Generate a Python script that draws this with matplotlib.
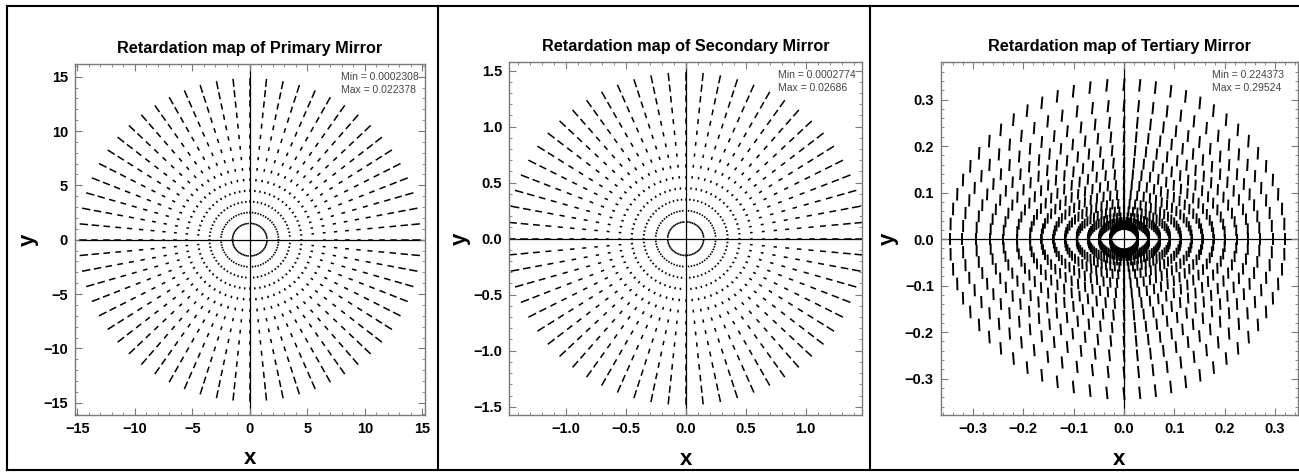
import numpy as np
import matplotlib
matplotlib.use("Agg")
import matplotlib.pyplot as plt
from matplotlib.collections import LineCollection
from matplotlib.lines import Line2D
from matplotlib.ticker import MultipleLocator

plt.rcParams['font.family'] = ['Liberation Sans', 'DejaVu Sans']

# ---------------- data ----------------
n_spokes = 64  # sampling directions on each ring

titles = ["Retardation map of Primary Mirror",
          "Retardation map of Secondary Mirror",
          "Retardation map of Tertiary Mirror"]
min_texts = ["Min = 0.0002308", "Min = 0.0002774", "Min = 0.224373"]
max_texts = ["Max = 0.022378", "Max = 0.02686", "Max = 0.29524"]

primary_radii = [1.5, 2.5, 3.5, 4.5, 5.5, 6.5, 7.5, 8.5, 9.5, 10.5, 11.5, 12.5, 13.5, 14.5]
primary_ret = [0.0002308, 0.000645, 0.00126, 0.00209, 0.00312, 0.00437, 0.00582,
               0.00749, 0.00937, 0.01146, 0.01377, 0.01630, 0.01904, 0.022378]

secondary_radii = [0.15, 0.25, 0.35, 0.45, 0.55, 0.65, 0.75, 0.85, 0.95, 1.05, 1.15, 1.25, 1.35, 1.45]
secondary_ret = [0.0002774, 0.000775, 0.00151, 0.00251, 0.00375, 0.00525, 0.00699,
                 0.00899, 0.01125, 0.01376, 0.01653, 0.01957, 0.02286, 0.02686]

tertiary_rx_pos = [0.028, 0.050, 0.0716, 0.0915, 0.113, 0.1346, 0.156, 0.178, 0.2008, 0.224, 0.247, 0.270, 0.295, 0.320]
tertiary_rx_neg = [0.027, 0.049, 0.071, 0.094, 0.117, 0.140, 0.164, 0.187, 0.213, 0.240, 0.266, 0.294, 0.321, 0.346]
tertiary_ry = [0.030, 0.037, 0.047, 0.060, 0.076, 0.095, 0.116, 0.139, 0.164, 0.191, 0.220, 0.251, 0.287, 0.332]
tertiary_ret = [0.224373, 0.2255, 0.228, 0.231, 0.235, 0.240, 0.245, 0.251, 0.257, 0.263,
                0.270, 0.278, 0.286, 0.29524]
tertiary_tilt_deg = [0.8, 1.2, 1.6, 2.0, 2.4, 2.8, 3.2, 3.5, 3.8, 4.1, 4.4, 4.7, 5.0, 5.3]

# ---------------- layout ----------------
W, H = 1299, 472
fig = plt.figure(figsize=(W / 100, H / 100), dpi=100)

def rect(l, r, t, b):
    return [l / W, (H - b) / H, (r - l) / W, (b - t) / H]

axes_rects = [rect(75, 425, 64.3, 415), rect(509.3, 862.3, 62, 415), rect(940.7, 1297.7, 62.3, 415)]
xlims = [(-15.2, 15.24), (-1.47, 1.472), (-0.364, 0.345)]
ylims = [(-16.13, 16.14), (-1.574, 1.577), (-0.378, 0.380)]
majors = [5, 0.5, 0.1]
minors = [1, 0.1, 0.02]
fmts = ["{:.0f}", "{:.1f}", "{:.1f}"]
ylabel_x = [-0.134, -0.14, -0.148]

theta = np.arange(n_spokes) * 2 * np.pi / n_spokes


def radial_segments(radii, ret, max_len):
    scale = max_len / max(ret)
    segs = []
    for r, v in zip(radii, ret):
        h = v * scale / 2
        for t in theta:
            c, s = np.cos(t), np.sin(t)
            segs.append([((r - h) * c, (r - h) * s), ((r + h) * c, (r + h) * s)])
    return segs


def tertiary_segments(max_len):
    scale = max_len / max(tertiary_ret)
    segs = []
    for rp, rn, ry, v, tilt in zip(tertiary_rx_pos, tertiary_rx_neg, tertiary_ry,
                                   tertiary_ret, tertiary_tilt_deg):
        h = v * scale / 2
        for t in theta:
            c, s = np.cos(t), np.sin(t)
            cx = (rp if c >= 0 else rn) * c
            cy = ry * s
            phi = np.deg2rad(tilt * s)
            dx, dy = np.sin(phi) * h, np.cos(phi) * h
            segs.append([(cx - dx, cy - dy), (cx + dx, cy + dy)])
    return segs


seg_sets = [radial_segments(primary_radii, primary_ret, 0.60),
            radial_segments(secondary_radii, secondary_ret, 0.060),
            tertiary_segments(0.027)]
seg_lw = [1.1, 1.1, 1.4]
seg_caps = ['projecting', 'projecting', 'butt']

frame_col = '#7a7a7a'
for i in range(3):
    ax = fig.add_axes(axes_rects[i])
    ax.axhline(0, color='black', lw=0.9, zorder=1)
    ax.axvline(0, color='black', lw=0.9, zorder=1)
    lc = LineCollection(seg_sets[i], colors='black', linewidths=seg_lw[i],
                        capstyle=seg_caps[i], zorder=2)
    ax.add_collection(lc)
    ax.set_xlim(*xlims[i])
    ax.set_ylim(*ylims[i])
    ax.xaxis.set_major_locator(MultipleLocator(majors[i]))
    ax.yaxis.set_major_locator(MultipleLocator(majors[i]))
    ax.xaxis.set_minor_locator(MultipleLocator(minors[i]))
    ax.yaxis.set_minor_locator(MultipleLocator(minors[i]))
    f = fmts[i]
    ax.xaxis.set_major_formatter(plt.FuncFormatter(lambda v, p, f=f: f.format(v + 0.0).replace('-', '\u2212')))
    ax.yaxis.set_major_formatter(plt.FuncFormatter(lambda v, p, f=f: f.format(v + 0.0).replace('-', '\u2212')))
    ax.tick_params(which='both', direction='in', top=True, right=True, color=frame_col,
                   labelsize=10.5, labelcolor='black', pad=5)
    ax.tick_params(which='major', length=5, width=0.8)
    ax.tick_params(which='minor', length=2.5, width=0.6)
    for lab in ax.get_xticklabels() + ax.get_yticklabels():
        lab.set_fontweight('bold')
    for sp in ax.spines.values():
        sp.set_color(frame_col)
        sp.set_linewidth(1.0)
    ax.set_xlabel('x', fontsize=16, fontweight='bold')
    ax.set_ylabel('y', fontsize=16, fontweight='bold')
    ax.xaxis.set_label_coords(0.5, -0.125)
    ax.xaxis.label.set_va('center')
    ax.yaxis.set_label_coords(ylabel_x[i], 0.5)
    ax.yaxis.label.set_va('center')
    ax.text(0.5, 1.044, titles[i], transform=ax.transAxes, ha='center', va='center',
            fontsize=11.7, fontweight='bold')
    ax.text(0.76, 0.963, min_texts[i], transform=ax.transAxes, ha='left', va='center',
            fontsize=7.5, color='#444444')
    ax.text(0.76, 0.927, max_texts[i], transform=ax.transAxes, ha='left', va='center',
            fontsize=7.5, color='#444444')

# grid frame around the three cells
def fline(x0, y0, x1, y1):
    fig.add_artist(Line2D([x0 / W, x1 / W], [(H - y0) / H, (H - y1) / H],
                          color='black', lw=1.5, transform=fig.transFigure))

fline(7, 6, 1299, 6)
fline(7, 470, 1299, 470)
fline(7, 6, 7, 470)
fline(438, 6, 438, 470)
fline(870, 6, 870, 470)

fig.savefig('out.png', dpi=100)
